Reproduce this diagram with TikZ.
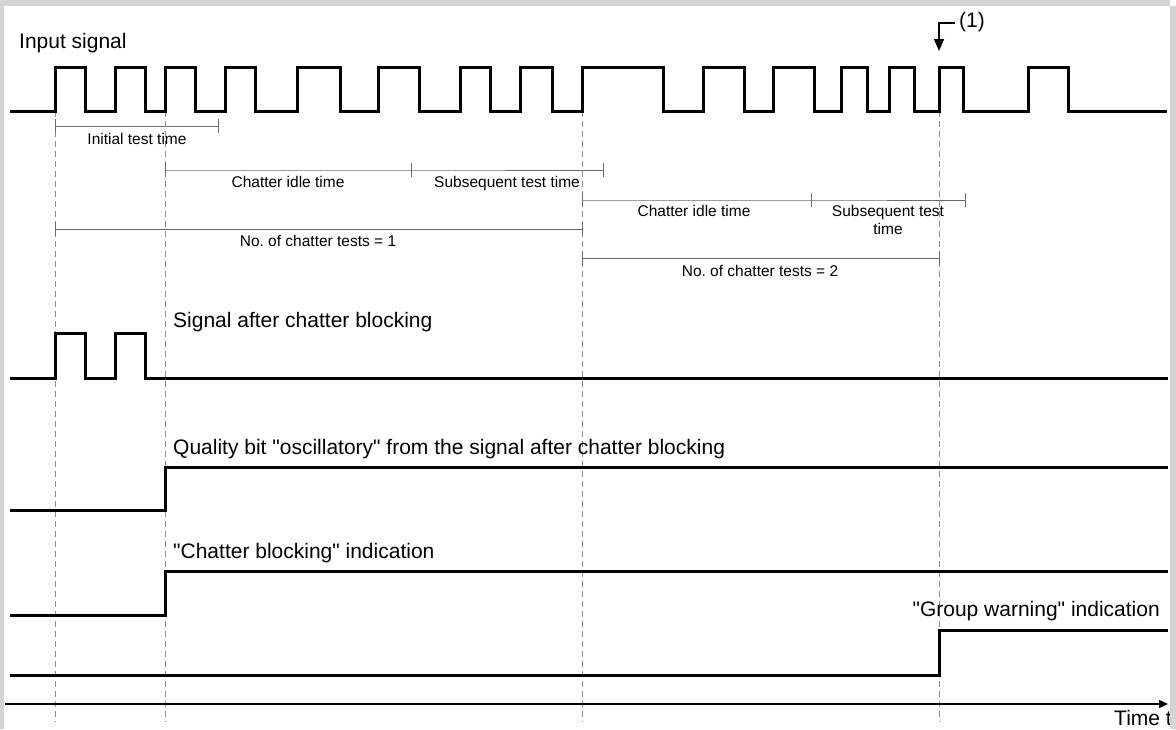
\documentclass[tikz,border=0pt]{standalone}
\usepackage{fontspec}
\setmainfont{Liberation Sans}[Ligatures=TeXOff]
\usetikzlibrary{arrows.meta}
\newcommand{\dq}{\symbol{34}}
\frenchspacing
\begin{document}
\begin{tikzpicture}[x=1pt,y=-1pt,
  sig/.style={line width=3pt, line join=miter, line cap=butt},
  guide/.style={draw=black!45, line width=0.9pt, dash pattern=on 6pt off 4pt},
  span/.style={draw=black!58, line width=1pt},
  big/.style={font=\fontsize{21}{24}\selectfont, inner sep=0pt},
  small/.style={font=\fontsize{15.5}{18}\selectfont, inner sep=0pt, align=center},
  frame/.style={fill=black!17, draw=none}]
\fill[white] (0,0) rectangle (1176,729);
\useasboundingbox (0,0) rectangle (1176,729);

% vertical guide lines
\foreach \x/\n in {55/ga,165/gb,582/gc,939/gd}{
  \coordinate (\n top) at (\x,111);
  \coordinate (\n bot) at (\x,722);
  \draw[guide] (\n top) -- (\n bot);
}

% input signal
\draw[sig] (10,111)
  \foreach \r/\f in {55/85,115/145,165/195,225/255,297/340,378/419,460/490,520/552,582/663,703/744,773/814,841/867,889/914,939/963,1028/1068}{
    -- (\r,111) -- (\r,67) -- (\f,67) -- (\f,111)}
  -- (1167,111);
\node[big, anchor=base west] (lin) at (19,48) {Input signal};

% (1) marker
\node[big, anchor=base west] (one) at (959,27) {(1)};
\coordinate (m1) at (955,23);
\coordinate (m2) at (939,51);
\draw[line width=1.3pt, -{Triangle[length=12pt,width=10pt]}] (m1) -| (m2);

% spans
\coordinate (s1a) at (55,126);  \coordinate (s1b) at (218,126);
\coordinate (s2a) at (165,170); \coordinate (s2b) at (411,170); \coordinate (s2c) at (603,170);
\coordinate (s3a) at (582,200); \coordinate (s3b) at (811,200); \coordinate (s3c) at (965,200);
\coordinate (s4a) at (55,229);  \coordinate (s4b) at (582,229);
\coordinate (s5a) at (582,258); \coordinate (s5b) at (939,258);
\draw[span] (s1a) -- (s1b);
\draw[span] (s2a) -- (s2b) -- (s2c);
\draw[span] (s3a) -- (s3b) -- (s3c);
\draw[span] (s4a) -- (s4b);
\draw[span] (s5a) -- (s5b);
\foreach \c in {s1a,s1b,s2a,s2b,s2c,s3a,s3b,s3c,s4a,s4b,s5a,s5b}{
  \draw[span] ([yshift=-7pt]\c) -- ([yshift=7pt]\c);
}
\node[small, anchor=base] (l1) at (137,144) {Initial test time};
\node[small, anchor=base] (l2) at (288,187) {Chatter idle time};
\node[small, anchor=base] (l3) at (507,187) {Subsequent test time};
\node[small, anchor=base] (l4) at (318,246) {No. of chatter tests = 1};
\node[small, anchor=base] (l5) at (694,216) {Chatter idle time};
\node[small, anchor=base] (l6a) at (888,216) {Subsequent test};
\node[small, anchor=base] (l6b) at (888,234) {time};
\node[small, anchor=base] (l7) at (760,276) {No. of chatter tests = 2};

% signal after chatter blocking
\draw[sig] (10,378) -- (55,378) -- (55,333) -- (85,333) -- (85,378) -- (115,378) -- (115,333) -- (145,333) -- (145,378) -- (1168,378);
\node[big, anchor=base west] (lsa) at (173,327) {Signal after chatter blocking};

% quality bit
\draw[sig] (10,510) -- (165,510) -- (165,467) -- (1168,467);
\node[big, anchor=base west] (lqb) at (173,454) {Quality bit \dq oscillatory\dq{} from the signal after chatter blocking};

% chatter blocking indication
\draw[sig] (10,615) -- (165,615) -- (165,571) -- (1168,571);
\node[big, anchor=base west] (lcb) at (173,558) {\dq Chatter blocking\dq{} indication};

% group warning
\draw[sig] (10,675) -- (939,675) -- (939,630) -- (1168,630);
\node[big, anchor=base east] (lgw) at (1160,616) {\dq Group warning\dq{} indication};

% time axis
\coordinate (ax0) at (5,704);
\coordinate (ax1) at (1168,704);
\draw[line width=1.3pt, -{Triangle[length=9pt,width=8pt]}] (ax0) -- (ax1);
\node[big, anchor=base west] (lt) at (1114,725) {Time t};

% frame
\fill[frame] (0,0) rectangle (1170,6);
\fill[frame] (0,0) rectangle (4,729);
\fill[frame] (1170,6) rectangle (1176,729);
\end{tikzpicture}
\end{document}
